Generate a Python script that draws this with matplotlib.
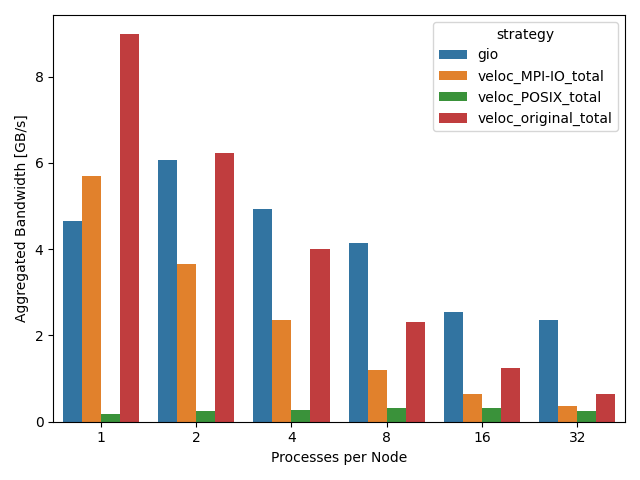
import pandas as pd
import seaborn as sns
import matplotlib
matplotlib.use("Agg")
import matplotlib.pyplot as plt

procs = [1, 2, 4, 8, 16, 32]
strategies = ["gio", "veloc_MPI-IO_total", "veloc_POSIX_total", "veloc_original_total"]
gio = [4.65, 6.06, 4.93, 4.15, 2.55, 2.36]
mpiio = [5.69, 3.65, 2.36, 1.21, 0.65, 0.37]
posix = [0.19, 0.25, 0.28, 0.32, 0.32, 0.26]
original = [8.98, 6.22, 4.01, 2.32, 1.25, 0.65]

rows = []
for name, vals in zip(strategies, [gio, mpiio, posix, original]):
    for p, v in zip(procs, vals):
        rows.append({"procs": p, "strategy": name, "bw": v})
df = pd.DataFrame(rows)

fig, ax = plt.subplots(figsize=(6.4, 4.8), dpi=100)
sns.barplot(data=df, x="procs", y="bw", hue="strategy", errorbar=None, ax=ax)
ax.set_xlabel("Processes per Node")
ax.set_ylabel("Aggregated Bandwidth [GB/s]")
ax.legend(title="strategy", loc="upper right")
plt.tight_layout()
plt.savefig("out.png")
